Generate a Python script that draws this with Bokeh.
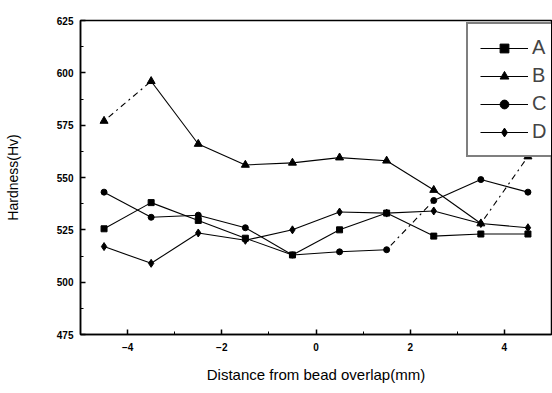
from bokeh.plotting import figure
from bokeh.models import Range1d, SingleIntervalTicker, Legend, LegendItem
from bokeh.embed import file_html
from bokeh.resources import INLINE

# Data
x = [-4.5, -3.5, -2.5, -1.5, -0.5, 0.5, 1.5, 2.5, 3.5, 4.5]
A = [525.5, 538, 529.5, 521, 513, 525, 533, 522, 523, 523]
B = [577, 596, 566, 556, 557, 559.5, 558, 544, 528, 560]
C = [543, 531, 532, 526, 513, 514.5, 515.5, 539, 549, 543]
D = [517, 509, 523.5, 520, 525, 533.5, 533, 534, 528, 526]
names = ["A", "B", "C", "D"]
series = [A, B, C, D]
markers = ["square", "triangle", "circle", "diamond"]
msizes = [6, 8, 6, 8]
# segments drawn dash-dotted (start index)
dashed = {"A": [], "B": [0, 8], "C": [6], "D": []}

p = figure(width=552, height=393, output_backend="svg", toolbar_location=None,
           x_range=Range1d(-5, 5), y_range=Range1d(475, 625),
           min_border_left=80, min_border_right=1, min_border_top=20, min_border_bottom=59)
p.xgrid.visible = False
p.ygrid.visible = False
p.outline_line_color = "black"
p.outline_line_width = 1.5
p.background_fill_color = "white"
p.border_fill_color = "white"

items = []
for name, ys, mk, ms in zip(names, series, markers, msizes):
    legend_line = None
    for i in range(len(x) - 1):
        dash = "dotdash" if i in dashed[name] else "solid"
        r = p.line(x[i:i + 2], ys[i:i + 2], line_color="black", line_width=1.1, line_dash=dash)
        if dash == "solid" and legend_line is None:
            legend_line = r
    s = p.scatter(x, ys, marker=mk, size=ms, fill_color="black", line_color="black")
    items.append(LegendItem(label=name, renderers=[legend_line, s]))

legend = Legend(items=items, location=(386, 177))
legend.margin = 0
legend.padding = 12
legend.spacing = 5
legend.glyph_width = 48
legend.glyph_height = 22
legend.label_text_font = "Liberation Sans"
legend.label_text_font_size = "20px"
legend.label_standoff = 4
legend.border_line_color = "black"
legend.border_line_width = 2.5
legend.background_fill_alpha = 1
p.add_layout(legend)

for ax in (p.xaxis[0], p.yaxis[0]):
    ax.axis_line_width = 1.5
    ax.major_tick_in = 5
    ax.major_tick_out = 0
    ax.minor_tick_in = 3
    ax.minor_tick_out = 0
    ax.major_tick_line_width = 1.5
    ax.major_label_text_font = "Liberation Sans"
    ax.major_label_text_font_size = "10px"
    ax.major_label_text_font_style = "bold"
    ax.axis_label_text_font = "Liberation Sans"
    ax.axis_label_text_font_style = "normal"
    ax.axis_label_text_color = "black"
    ax.major_label_text_color = "black"

p.xaxis.ticker = SingleIntervalTicker(interval=2, num_minor_ticks=2)
p.yaxis.ticker = SingleIntervalTicker(interval=25, num_minor_ticks=2)
p.xaxis.axis_label = "Distance from bead overlap(mm)"
p.yaxis.axis_label = "Hardness(Hv)"
p.xaxis.axis_label_text_font_size = "15px"
p.yaxis.axis_label_text_font_size = "14px"
p.xaxis.major_label_standoff = 8
p.yaxis.major_label_standoff = 7
p.xaxis.axis_label_standoff = 12
p.yaxis.axis_label_standoff = 33

open("out.html", "w").write(file_html(p, INLINE))
